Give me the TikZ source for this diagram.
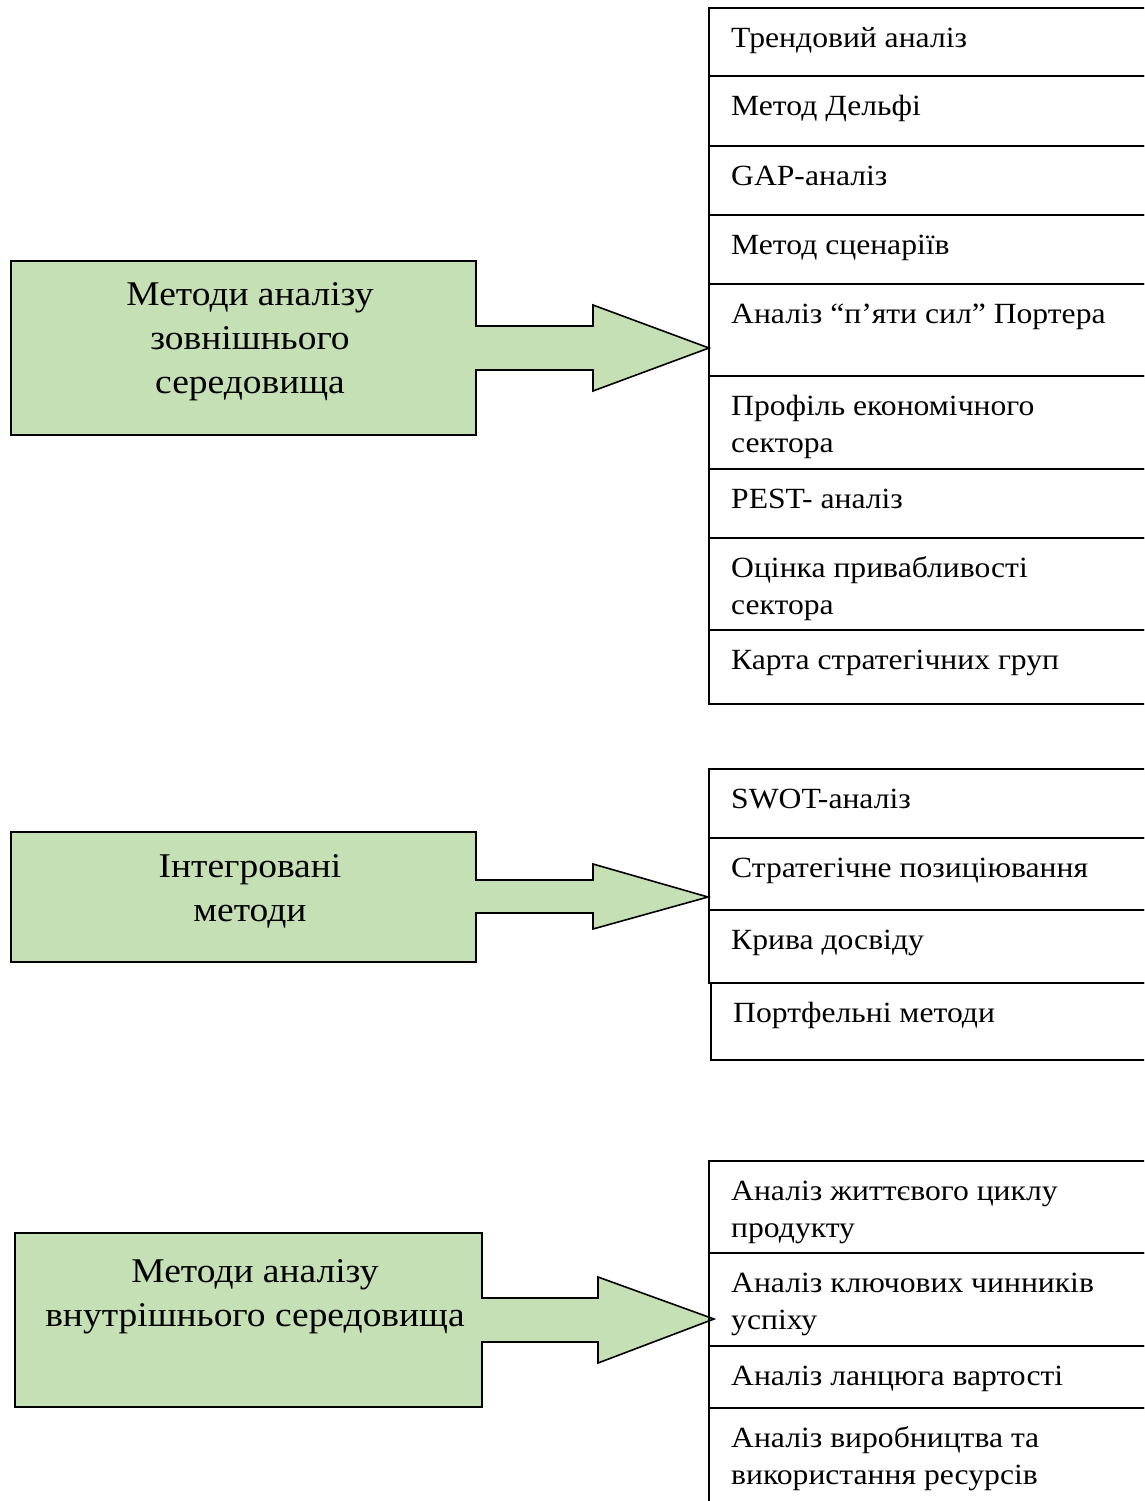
\documentclass[tikz,border=0pt]{standalone}
\usepackage{fontspec}
\setmainfont[FakeStretch=1.08]{Liberation Serif}
\definecolor{callgreen}{RGB}{197,224,180}
\tikzset{
  callout/.style={draw=black, line width=1.6pt, fill=callgreen, line join=miter},
  cellbox/.style={draw=black, line width=1.6pt},
  celltext/.style={anchor=north west, inner sep=0pt, align=left, font=\fontsize{29.3}{37}\selectfont},
  boxtext/.style={anchor=north, inner sep=0pt, align=center, font=\fontsize{34.7}{44}\selectfont},
}
\newcommand{\cst}{\rule{0pt}{24pt}}
\newcommand{\bst}{\rule{0pt}{29pt}}
\begin{document}
\begin{tikzpicture}[x=1pt,y=-1pt]
\clip (0,0) rectangle (1144,1501);
\fill[white] (0,0) rectangle (1144,1501);

% callout shapes
\draw[callout] (11,261) -- (476,261) -- (476,326) -- (593,326) -- (593,305) -- (709,348) -- (593,391) -- (593,370) -- (476,370) -- (476,435) -- (11,435) -- cycle;
\draw[callout] (11,832) -- (476,832) -- (476,880) -- (593,880) -- (593,864) -- (708,897) -- (593,929) -- (593,913) -- (476,913) -- (476,962) -- (11,962) -- cycle;
\draw[callout] (15,1233) -- (482,1233) -- (482,1298) -- (598,1298) -- (598,1277) -- (714,1319) -- (598,1363) -- (598,1342) -- (482,1342) -- (482,1407) -- (15,1407) -- cycle;

\node[boxtext] (b1) at (250,276) {\bst Методи аналізу\\зовнішнього\\середовища};
\node[boxtext] (b2) at (250,848) {\bst Інтегровані\\методи};
\node[boxtext] (b3) at (255,1253) {\bst Методи аналізу\\внутрішнього середовища};

% group 1 cells
\draw[cellbox] (709,8) rectangle (1170,76);
\draw[cellbox] (709,76) rectangle (1170,146);
\draw[cellbox] (709,146) rectangle (1170,215);
\draw[cellbox] (709,215) rectangle (1170,284);
\draw[cellbox] (709,284) rectangle (1170,376);
\draw[cellbox] (709,376) rectangle (1170,469);
\draw[cellbox] (709,469) rectangle (1170,538);
\draw[cellbox] (709,538) rectangle (1170,630);
\draw[cellbox] (709,630) rectangle (1170,704);
\node[celltext] (r1) at (731,23) {\cst Трендовий аналіз};
\node[celltext] (r2) at (731,91) {\cst Метод Дельфі};
\node[celltext] (r3) at (731,161) {\cst GAP-аналіз};
\node[celltext] (r4) at (731,230) {\cst Метод сценаріїв};
\node[celltext] (r5) at (731,299) {\cst Аналіз “п’яти сил” Портера};
\node[celltext] (r6) at (731,391) {\cst Профіль економічного\\сектора};
\node[celltext] (r7) at (731,484) {\cst PEST- аналіз};
\node[celltext] (r8) at (731,553) {\cst Оцінка привабливості\\сектора};
\node[celltext] (r9) at (731,645) {\cst Карта стратегічних груп};

% group 2 cells
\draw[cellbox] (709,769) rectangle (1170,838);
\draw[cellbox] (709,838) rectangle (1170,910);
\draw[cellbox] (709,910) rectangle (1170,983);
\draw[cellbox] (711,983) rectangle (1170,1060);
\node[celltext] (s1) at (731,784) {\cst SWOT-аналіз};
\node[celltext] (s2) at (731,853) {\cst Стратегічне позиціювання};
\node[celltext] (s3) at (731,925) {\cst Крива досвіду};
\node[celltext] (s4) at (733,998) {\cst Портфельні методи};

% group 3 cells
\draw[cellbox] (709,1161) rectangle (1170,1253);
\draw[cellbox] (709,1253) rectangle (1170,1346);
\draw[cellbox] (709,1346) rectangle (1170,1408);
\draw[cellbox] (709,1408) rectangle (1170,1530);
\node[celltext] (u1) at (731,1176) {\cst Аналіз життєвого циклу\\продукту};
\node[celltext] (u2) at (731,1268) {\cst Аналіз ключових чинників\\успіху};
\node[celltext] (u3) at (731,1361) {\cst Аналіз ланцюга вартості};
\node[celltext] (u4) at (731,1423) {\cst Аналіз виробництва та\\використання ресурсів};
\end{tikzpicture}
\end{document}
